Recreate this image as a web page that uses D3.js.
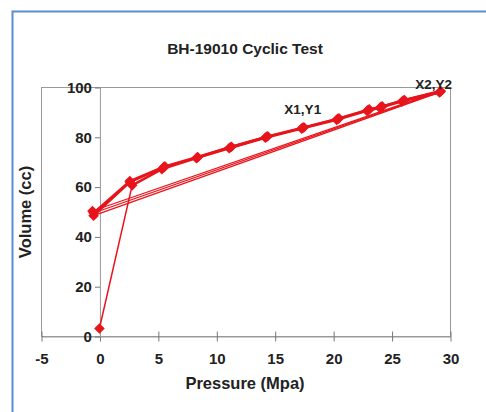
<!DOCTYPE html>
<html>
<head>
<meta charset="utf-8">
<script src="https://cdn.jsdelivr.net/npm/d3@7"></script>
<style>
  body { margin: 0; background: #fff; }
  text { font-family: "Liberation Sans", Arial, sans-serif; font-weight: bold; fill: #222; }
</style>
</head>
<body>
<div id="chart"></div>
<script>
// data: [pressure (Mpa), volume (cc)]
const firstLoad = [[0, 3], [2.8, 60.5], [5.35, 67], [8.3, 71.4], [11.1, 75.4], [14.2, 79.6],
  [17.3, 83.3], [20.3, 86.8], [22.9, 90.4], [24.0, 91.6], [25.9, 94.2], [29.1, 97.8]];
const firstUnload = [[29.1, 97.8], [-0.5, 48.3]];
const secondLoad = [[-0.5, 48.3], [2.6, 61.8], [5.5, 67.8], [8.4, 71.7], [11.2, 75.8], [14.3, 80.0],
  [17.4, 83.6], [20.4, 87.2], [23.0, 90.8], [24.1, 92.0], [26.0, 94.6], [29.2, 98.2]];
const secondUnload = [[29.2, 98.2], [-0.5, 49.4]];
const thirdLoad = [[-0.5, 49.4], [2.6, 62.2], [5.6, 68.1], [8.4, 71.9], [11.3, 76.0], [14.4, 80.2],
  [17.5, 83.8], [20.5, 87.4], [23.1, 91.0], [24.2, 92.2], [26.1, 94.8], [29.2, 98.4]];
const thirdUnload = [[29.2, 98.4], [-0.6, 50.2]];

const xTicks = [-5, 0, 5, 10, 15, 20, 25, 30];
const yTicks = [0, 20, 40, 60, 80, 100];
const annotations = [{label: "X1,Y1", x: 17.4, y: 89}, {label: "X2,Y2", x: 28.6, y: 99.3}];

const width = 486, height = 412;
const svg = d3.select("#chart").append("svg")
    .attr("width", width)
    .attr("height", height);

// outer blue frame
svg.append("path")
    .attr("d", "M12.5,412 V11.5 H486")
    .attr("fill", "none")
    .attr("stroke", "#5b8bd6")
    .attr("stroke-width", 2);

const x = d3.scaleLinear().domain([-5, 30]).range([41, 450]);
const y = d3.scaleLinear().domain([0, 100]).range([336, 87]);

// plot frame
svg.append("rect")
    .attr("x", x(-5) + 0.5)
    .attr("y", y(100) + 0.5)
    .attr("width", x(30) - x(-5))
    .attr("height", y(0) - y(100))
    .attr("fill", "none")
    .attr("stroke", "#999")
    .attr("stroke-width", 1);

// x axis (plain hyphen for negatives, like the original)
const xAxis = svg.append("g")
    .attr("transform", `translate(0.5,${y(0) + 0.5})`)
    .call(d3.axisBottom(x).tickValues(xTicks).tickSize(5).tickSizeOuter(0).tickFormat(d => String(d)));
xAxis.selectAll(".tick line").attr("y1", -5).attr("stroke", "#777");
xAxis.select(".domain").attr("stroke", "#999");
xAxis.selectAll("text")
    .attr("dy", "1.3em")
    .style("font-size", "15px");

// y axis at x = 0
const yAxis = svg.append("g")
    .attr("transform", `translate(${x(0) + 0.5},0.5)`)
    .call(d3.axisLeft(y).tickValues(yTicks).tickSize(5).tickSizeOuter(0));
yAxis.select(".domain").attr("stroke", "#999");
yAxis.selectAll(".tick line").attr("stroke", "#777");
yAxis.selectAll("text")
    .attr("x", -8)
    .style("font-size", "15px");

// titles
svg.append("text")
    .attr("x", 245).attr("y", 54)
    .attr("text-anchor", "middle")
    .style("font-size", "15.5px")
    .text("BH-19010 Cyclic Test");
svg.append("text")
    .attr("x", 245).attr("y", 389)
    .attr("text-anchor", "middle")
    .style("font-size", "16.5px")
    .text("Pressure (Mpa)");
svg.append("text")
    .attr("transform", "translate(31,212) rotate(-90)")
    .attr("text-anchor", "middle")
    .style("font-size", "16.5px")
    .text("Volume (cc)");

// lines
const line = d3.line().x(d => x(d[0])).y(d => y(d[1]));
const red = "#e8141b";
const segments = [
  {pts: firstLoad.slice(0, 2), w: 1.5},
  {pts: firstLoad.slice(1), w: 2.4},
  {pts: firstUnload, w: 1.3},
  {pts: secondLoad, w: 2.4},
  {pts: secondUnload, w: 1.3},
  {pts: thirdLoad, w: 2.4},
  {pts: thirdUnload, w: 1.3}
];
svg.selectAll(".seg")
    .data(segments)
    .join("path")
    .attr("class", "seg")
    .attr("d", d => line(d.pts))
    .attr("fill", "none")
    .attr("stroke", red)
    .attr("stroke-width", d => d.w)
    .attr("stroke-linejoin", "round");

// diamond markers
const allPoints = [...firstLoad, ...secondLoad, ...thirdLoad, thirdUnload[1]];
const diamond = d3.symbol().type(d3.symbolDiamond2).size(72);
svg.selectAll(".pt")
    .data(allPoints)
    .join("path")
    .attr("class", "pt")
    .attr("transform", d => `translate(${x(d[0])},${y(d[1])})`)
    .attr("d", diamond)
    .attr("fill", red);

// annotations
svg.selectAll(".note")
    .data(annotations)
    .join("text")
    .attr("class", "note")
    .attr("x", d => x(d.x))
    .attr("y", d => y(d.y))
    .attr("text-anchor", "middle")
    .style("font-size", "13.5px")
    .text(d => d.label);
</script>
</body>
</html>
